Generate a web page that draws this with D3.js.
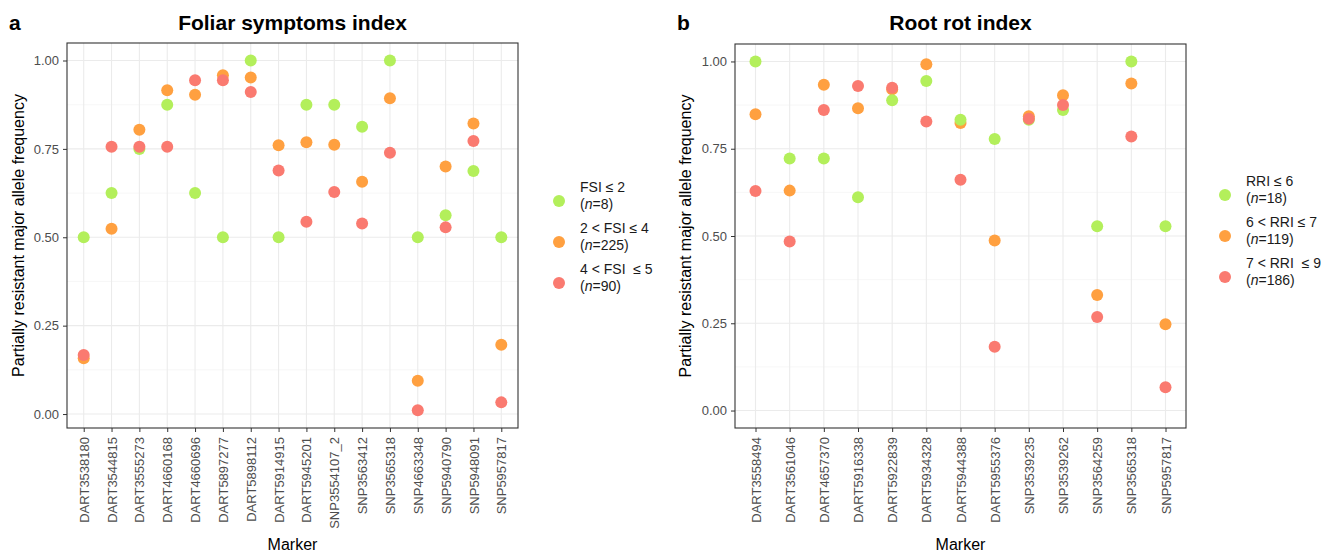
<!DOCTYPE html>
<html>
<head>
<meta charset="utf-8">
<script src="https://cdn.jsdelivr.net/npm/d3@7"></script>
<style>
  body { margin: 0; background: #fff; }
  text { font-family: "Liberation Sans", Arial, sans-serif; }
</style>
</head>
<body>
<div id="chart"></div>
<script>
// data
var fsiMarkers = ["DART3538180","DART3544815","DART3555273","DART4660168","DART4660696","DART5897277","DART5898112","DART5914915","DART5945201","SNP3554107_2","SNP3563412","SNP3565318","SNP4663348","SNP5940790","SNP5948091","SNP5957817"]
var fsiLow  = [0.5, 0.625, 0.75, 0.875, 0.625, 0.5, 1.0, 0.5, 0.875, 0.875, 0.8125, 1.0, 0.5, 0.5625, 0.6875, 0.5]
var fsiMid  = [0.158, 0.524, 0.804, 0.916, 0.903, 0.958, 0.952, 0.760, 0.769, 0.762, 0.657, 0.893, 0.094, 0.700, 0.822, 0.196]
var fsiHigh = [0.167, 0.756, 0.756, 0.756, 0.944, 0.944, 0.911, 0.689, 0.544, 0.628, 0.539, 0.739, 0.011, 0.528, 0.772, 0.033]
var fsiLegend = [["FSI \u2264 2", "8"], ["2 < FSI \u2264 4", "225"], ["4 < FSI  \u2264 5", "90"]]

var rriMarkers = ["DART3558494","DART3561046","DART4657370","DART5916338","DART5922839","DART5934328","DART5944388","DART5955376","SNP3539235","SNP3539262","SNP3564259","SNP3565318","SNP5957817"]
var rriLow  = [1.0, 0.722, 0.722, 0.611, 0.889, 0.944, 0.833, 0.778, 0.833, 0.861, 0.528, 1.0, 0.528]
var rriMid  = [0.849, 0.630, 0.933, 0.866, 0.92, 0.992, 0.824, 0.487, 0.843, 0.903, 0.331, 0.937, 0.247]
var rriHigh = [0.629, 0.484, 0.861, 0.930, 0.925, 0.828, 0.661, 0.183, 0.836, 0.875, 0.268, 0.785, 0.067]
var rriLegend = [["RRI \u2264 6", "18"], ["6 < RRI \u2264 7", "119"], ["7 < RRI  \u2264 9", "186"]]

var yTicks = [0, 0.25, 0.5, 0.75, 1.0]
var colors = ["#b3ef5b", "#ffa040", "#fa7a70"]   // low, mid, high
var drawOrder = [1, 0, 2]

var W = 1332, H = 552
var svg = d3.select("#chart").append("svg").attr("width", W).attr("height", H)

function panel(opt) {
  var x = d3.scalePoint().domain(opt.markers).range([opt.left, opt.right]).padding(0.6)
  var y = d3.scaleLinear().domain(opt.ydom).range([428, opt.top])
  var g = svg.append("g")

  // grid
  var minor = d3.range(0.125, 1, 0.25)
  g.selectAll(".minor").data(minor).join("line")
    .attr("x1", opt.left).attr("x2", opt.right)
    .attr("y1", d => y(d)).attr("y2", d => y(d))
    .attr("stroke", "#f2f2f2").attr("stroke-width", 0.6)
  g.selectAll(".majy").data(yTicks).join("line")
    .attr("x1", opt.left).attr("x2", opt.right)
    .attr("y1", d => y(d)).attr("y2", d => y(d))
    .attr("stroke", "#ebebeb").attr("stroke-width", 1.1)
  g.selectAll(".majx").data(opt.markers).join("line")
    .attr("x1", d => x(d)).attr("x2", d => x(d))
    .attr("y1", opt.top).attr("y2", 428)
    .attr("stroke", "#ebebeb").attr("stroke-width", 1.1)

  // points
  var series = [opt.low, opt.mid, opt.high]
  drawOrder.forEach(function(s) {
    g.append("g").selectAll("circle").data(series[s]).join("circle")
      .attr("cx", (d, i) => x(opt.markers[i]))
      .attr("cy", d => y(d))
      .attr("r", 6)
      .attr("fill", colors[s])
  })

  // border
  g.append("rect").attr("x", opt.left).attr("y", opt.top)
    .attr("width", opt.right - opt.left).attr("height", 428 - opt.top)
    .attr("fill", "none").attr("stroke", "#333").attr("stroke-width", 1.1)

  // axes
  var ya = g.append("g").attr("transform", "translate(" + opt.left + ",0)")
    .call(d3.axisLeft(y).tickValues(yTicks).tickFormat(d3.format(".2f")).tickSize(4).tickPadding(4))
  var xa = g.append("g").attr("transform", "translate(0,428)")
    .call(d3.axisBottom(x).tickSize(4).tickPadding(4))
  ;[ya, xa].forEach(function(a) {
    a.select(".domain").remove()
    a.selectAll(".tick line").attr("stroke", "#333")
    a.selectAll("text").attr("fill", "#4d4d4d").attr("font-size", 13)
      .attr("font-family", "Liberation Sans, Arial, sans-serif")
  })
  xa.selectAll("text")
    .attr("transform", "rotate(-90)")
    .attr("text-anchor", "end")
    .attr("x", -9).attr("y", 0).attr("dy", "0.35em")

  // titles
  var cx = (opt.left + opt.right) / 2
  g.append("text").attr("x", cx).attr("y", 30).attr("text-anchor", "middle")
    .attr("font-size", 21).attr("font-weight", "bold").text(opt.title)
  g.append("text").attr("x", opt.tagX).attr("y", 30)
    .attr("font-size", 21).attr("font-weight", "bold").text(opt.tag)
  g.append("text").attr("x", cx).attr("y", 550).attr("text-anchor", "middle")
    .attr("font-size", 16).text("Marker")
  g.append("text")
    .attr("transform", "translate(" + opt.yTitleX + "," + ((opt.top + 428) / 2) + ") rotate(-90)")
    .attr("text-anchor", "middle").attr("font-size", 16)
    .text("Partially resistant major allele frequency")

  // legend
  var lg = g.append("g").selectAll("g").data(opt.legend).join("g")
    .attr("transform", (d, i) => "translate(" + opt.legX + "," + (opt.legY + i * 41) + ")")
  lg.append("circle").attr("r", 6).attr("fill", (d, i) => colors[i])
  lg.append("text").attr("x", 21).attr("y", -9).attr("font-size", 14)
    .attr("fill", "#1a1a1a").style("white-space", "pre").text(d => d[0])
  var t2 = lg.append("text").attr("x", 21).attr("y", 8).attr("font-size", 14).attr("fill", "#1a1a1a")
  t2.append("tspan").text("(")
  t2.append("tspan").attr("font-style", "italic").text("n")
  t2.append("tspan").text(d => "=" + d[1] + ")")
}

panel({markers: fsiMarkers, low: fsiLow, mid: fsiMid, high: fsiHigh, legend: fsiLegend,
  left: 67, right: 518, top: 43, ydom: [-0.0395, 1.0495],
  title: "Foliar symptoms index", tag: "a", tagX: 9, yTitleX: 24,
  legX: 559, legY: 201})

panel({markers: rriMarkers, low: rriLow, mid: rriMid, high: rriHigh, legend: rriLegend,
  left: 735, right: 1186, top: 44, ydom: [-0.05, 1.05],
  title: "Root rot index", tag: "b", tagX: 677, yTitleX: 691,
  legX: 1225, legY: 195})
</script>
</body>
</html>
